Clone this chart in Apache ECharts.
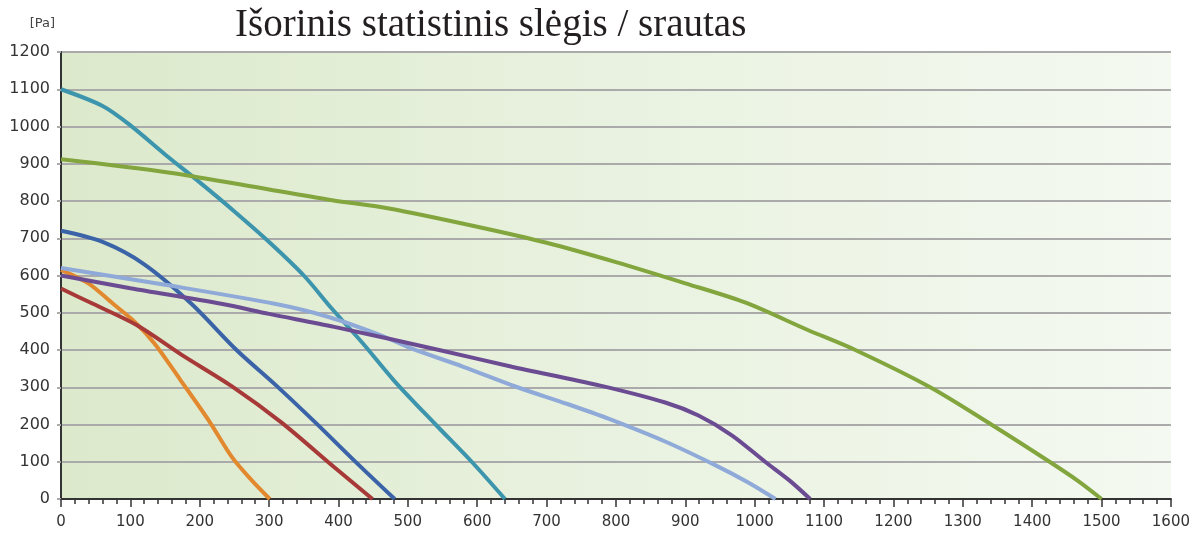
<!DOCTYPE html>
<html>
<head>
<meta charset="utf-8">
<script src="https://cdn.jsdelivr.net/npm/echarts@6/dist/echarts.min.js"></script>
<style>
  html, body { margin: 0; padding: 0; background: #fff; }
  .chart { width: 1193px; height: 533px; }
</style>
</head>
<body>
<div class="line1"><div class="chart"></div></div>
<script>
// srautas [m3/h] , slegis [Pa]
var xTicks = [0, 1600, 100];
var yTicks = [0, 1200, 100];

var orangeCurve = [[0, 615], [40, 578], [75, 524], [106, 476], [135, 417], [172, 320], [214, 208], [247, 111], [275, 50], [301, 0]];
var redCurve = [[0, 565], [46, 524], [109, 467], [174, 387], [246, 303], [318, 205], [394, 85], [449, 0]];
var blueCurve = [[0, 720], [60, 690], [120, 630], [188, 524], [253, 400], [310, 305], [368, 203], [425, 99], [481, 0]];
var tealCurve = [[0, 1100], [60, 1055], [100, 1003], [150, 925], [200, 850], [250, 772], [300, 690], [350, 600], [390, 512], [435, 418], [480, 318], [540, 200], [593, 98], [640, 0]];
var lightBlueCurve = [[0, 620], [150, 575], [308, 524], [387, 488], [463, 438], [504, 405], [580, 355], [658, 300], [730, 255], [790, 215], [870, 155], [943, 91], [990, 45], [1030, 0]];
var purpleCurve = [[0, 600], [100, 566], [231, 524], [300, 497], [394, 462], [545, 400], [650, 355], [776, 305], [871, 259], [919, 224], [967, 171], [1015, 100], [1050, 50], [1080, 0]];
var greenCurve = [[0, 912], [157, 876], [300, 831], [391, 802], [473, 780], [600, 731], [700, 688], [800, 636], [900, 579], [987, 527], [1075, 455], [1145, 400], [1253, 300], [1341, 200], [1425, 100], [1465, 50], [1500, 0]];

(function()
{
  var myChart = echarts.init(document.querySelector(".line1 .chart"));

  function curve(name, color, data) {
    return {
      name: name,
      type: 'line',
      smooth: 0.3,
      showSymbol: false,
      lineStyle: {
        width: 4,
        color: color
      },
      data: data
    };
  }

  var option = {
    animation: false,
    title: {
      text: 'Išorinis statistinis slėgis / srautas',
      left: 230,
      top: 1,
      textStyle: {
        fontFamily: 'Liberation Serif',
        fontWeight: 'normal',
        fontSize: 39,
        color: '#231f20'
      }
    },
    grid: {
      left: 61,
      right: 20,
      top: 52,
      bottom: 34,
      show: true,
      borderWidth: 0,
      backgroundColor: new echarts.graphic.LinearGradient(0, 0, 1, 0, [
        { offset: 0, color: '#dce9cb' },
        { offset: 0.5, color: '#e9f2e0' },
        { offset: 1, color: '#f4f9f1' }
      ])
    },
    xAxis: {
      type: 'value',
      min: xTicks[0],
      max: xTicks[1],
      interval: xTicks[2],
      axisLine: {
        lineStyle: { color: '#333', width: 2 }
      },
      axisTick: {
        length: 8,
        lineStyle: { color: '#333', width: 1.5 }
      },
      minorTick: {
        show: true,
        splitNumber: 5,
        length: 5,
        lineStyle: { color: '#333', width: 1.5 }
      },
      splitLine: { show: false },
      axisLabel: {
        margin: 16,
        fontFamily: 'DejaVu Sans',
        fontSize: 15,
        color: '#333',
        formatter: function (v) { return String(v); }
      }
    },
    yAxis: {
      type: 'value',
      min: yTicks[0],
      max: yTicks[1],
      interval: yTicks[2],
      name: '[Pa]',
      nameLocation: 'end',
      nameGap: 22,
      nameTextStyle: {
        align: 'right',
        padding: [0, 6, 0, 0],
        fontFamily: 'DejaVu Sans',
        fontSize: 13,
        color: '#444'
      },
      axisLine: {
        show: true,
        lineStyle: { color: '#333', width: 2 }
      },
      axisTick: {
        show: true,
        length: 4,
        lineStyle: { color: '#aaa', width: 2 }
      },
      splitLine: {
        lineStyle: { color: '#aaa', width: 2 }
      },
      axisLabel: {
        margin: 11,
        fontFamily: 'DejaVu Sans',
        fontSize: 16,
        color: '#333',
        formatter: function (v) { return String(v); }
      }
    },
    series: [
      curve('orange', '#e2892f', orangeCurve),
      curve('red', '#a73a38', redCurve),
      curve('blue', '#3b64a8', blueCurve),
      curve('teal', '#3c95ad', tealCurve),
      curve('lightblue', '#8fa9d8', lightBlueCurve),
      curve('purple', '#6b4c93', purpleCurve),
      curve('green', '#82a53e', greenCurve)
    ]
  };
  myChart.setOption(option);
})();
</script>
</body>
</html>
